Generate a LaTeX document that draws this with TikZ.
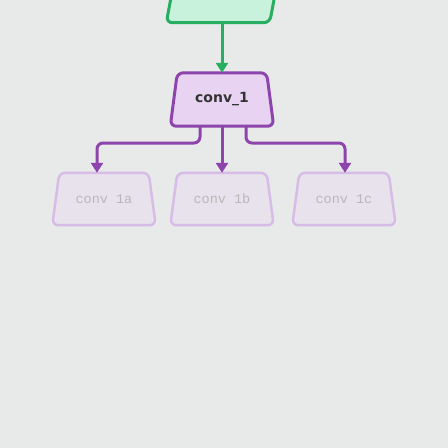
\documentclass[tikz,border=0pt]{standalone}
\usepackage{fontspec}
\setmainfont{DejaVu Sans}
\newfontfamily\monofam{Liberation Mono}
\usetikzlibrary{arrows.meta}
\definecolor{bgc}{HTML}{E8EAE9}
\definecolor{gstroke}{HTML}{27AE60}
\definecolor{gfill}{HTML}{C9F2DC}
\definecolor{pstroke}{HTML}{8E44AD}
\definecolor{pfill}{HTML}{E8D4F2}
\definecolor{fstroke}{HTML}{D8BCE8}
\definecolor{ffill}{HTML}{E7E2EC}
\definecolor{ftext}{HTML}{B8B8B8}
\definecolor{dtext}{HTML}{333333}
\tikzset{
  box/.style={rectangle, inner sep=0pt, minimum width=103pt, minimum height=53pt},
  mainbox/.style={box, text=dtext, font=\bfseries\fontsize{14}{16}\selectfont},
  fadebox/.style={box, minimum height=52pt, text=ftext, font=\monofam\fontsize{13.5}{16}\selectfont},
  mainshape/.style={draw=pstroke, fill=pfill, line width=3pt, rounded corners=6pt},
  fadeshape/.style={draw=fstroke, fill=ffill, line width=2.5pt, rounded corners=6pt},
  topshape/.style={draw=gstroke, fill=gfill, line width=3pt, rounded corners=6pt},
  garrow/.style={draw=gstroke, line width=3pt, -{Triangle[length=10pt,width=12pt]}},
  parrow/.style={draw=pstroke, line width=3pt, rounded corners=6pt, -{Triangle[length=10pt,width=12pt]}}
}
\newcommand{\trapshape}[2]{%
  \path[#2] ([xshift=7pt]#1.north west) -- ([xshift=-7pt]#1.north east) -- (#1.south east) -- (#1.south west) -- cycle;}
\begin{document}
\begin{tikzpicture}[x=1pt,y=1pt]
\fill[bgc] (0,0) rectangle (448,-448);
\useasboundingbox (0,0) rectangle (448,-448);
\clip (0,0) rectangle (448,-448);
% nodes
\node[box] (top) at (218,4) {};
\path[topshape] (top.south west) -- (top.south east) -- ([xshift=10pt]top.north east) -- ([xshift=10pt]top.north west) -- cycle;
\node[box] (c1s) at (222,-99.5) {};
\trapshape{c1s}{mainshape}
\node[mainbox] (c1) at (222,-99.5) {conv\_1};
\node[fadebox] (as) at (104,-199) {};
\node[fadebox] (bs) at (222,-199) {};
\node[fadebox] (cs) at (344,-199) {};
\trapshape{as}{fadeshape}
\trapshape{bs}{fadeshape}
\trapshape{cs}{fadeshape}
\node[fadebox] (a) at (104,-199) {conv 1a};
\node[fadebox] (b) at (222,-199) {conv 1b};
\node[fadebox] (c) at (344,-199) {conv 1c};
% connectors
\draw[garrow] ([xshift=4pt]top.south) -- (c1.north);
\draw[parrow] ([xshift=-22pt]c1.south) |- (150,-143) -| ([xshift=-7pt]a.north);
\draw[parrow] (c1.south) -- (b.north);
\draw[parrow] ([xshift=24pt]c1.south) |- (300,-143) -| ([xshift=1pt]c.north);
\end{tikzpicture}
\end{document}
